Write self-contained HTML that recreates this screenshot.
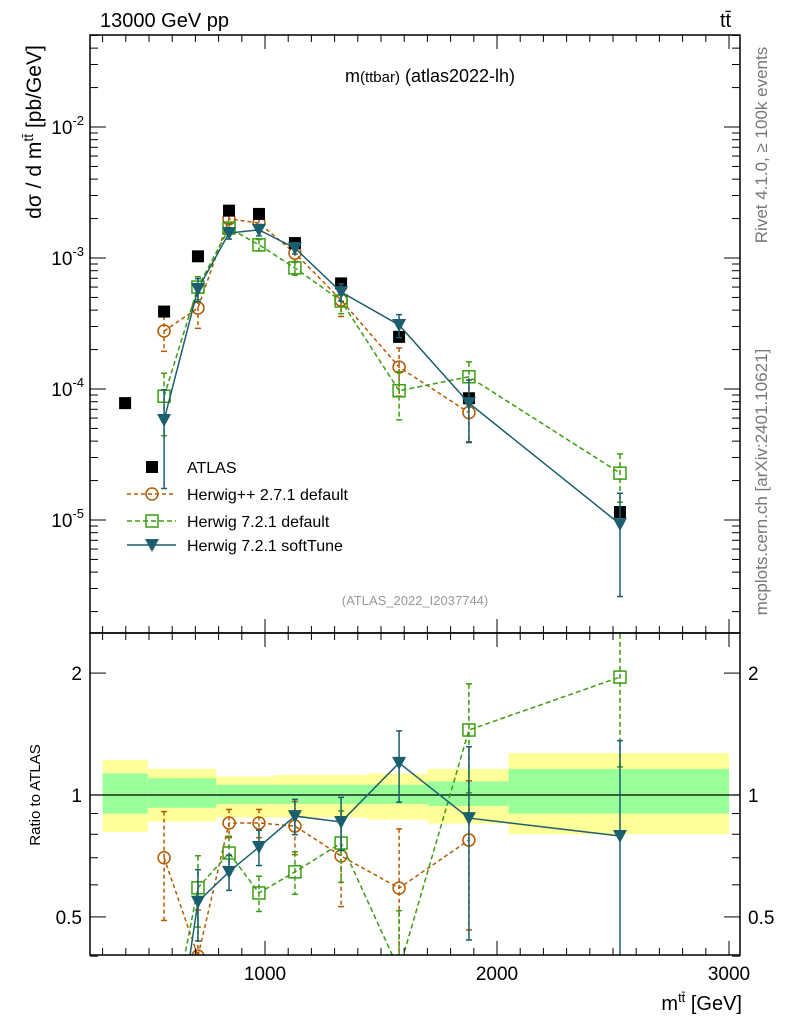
<!DOCTYPE html>
<html><head><meta charset="utf-8"><style>
html,body{margin:0;padding:0;background:#fff;width:786px;height:1024px;overflow:hidden}
svg{display:block;font-family:"Liberation Sans",sans-serif}
</style></head><body>
<svg id="c" width="786" height="1024" viewBox="0 0 786 1024">
<text x="100" y="27" font-size="20">13000 GeV pp</text>
<text x="720" y="27" font-size="20">tt̄</text>
<text x="430" y="82" font-size="18" text-anchor="middle">m<tspan font-size="15">(ttbar)</tspan> (atlas2022-lh)</text>
<text x="415" y="605" font-size="13" fill="#999" text-anchor="middle">(ATLAS_2022_I2037744)</text>
<text transform="translate(767,145) rotate(-90)" font-size="17" fill="#777" text-anchor="middle">Rivet 4.1.0, ≥ 100k events</text>
<text transform="translate(767,482) rotate(-90)" font-size="17" fill="#777" text-anchor="middle">mcplots.cern.ch [arXiv:2401.10621]</text>
<text transform="translate(41,132) rotate(-90)" font-size="21" text-anchor="middle">dσ / d m<tspan dy="-8" font-size="14">tt̄</tspan><tspan dy="8"> [pb/GeV]</tspan></text>
<text transform="translate(40,795) rotate(-90)" font-size="15" text-anchor="middle">Ratio to ATLAS</text>
<text x="742" y="1010" font-size="20" text-anchor="end">m<tspan dy="-8" font-size="13">tt̄</tspan><tspan dy="8"> [GeV]</tspan></text>
<g id="g"></g>
</svg>
<script>
const binEdges=[300,495,640,790,1040,1440,1700,2050,3000];
const bandYellowLo=[0.81,0.86,0.86,0.88,0.88,0.87,0.85,0.80];
const bandYellowHi=[1.22,1.16,1.16,1.11,1.12,1.13,1.16,1.27];
const bandGreenLo=[0.9,0.93,0.93,0.95,0.95,0.95,0.94,0.9];
const bandGreenHi=[1.13,1.10,1.10,1.06,1.06,1.06,1.08,1.16];
const dataX=[397,565,711,845,974,1129,1328,1578,1879,2530];
const dataY=[7.8e-5,3.9e-4,1.03e-3,2.3e-3,2.17e-3,1.3e-3,6.4e-4,2.5e-4,8.5e-5,1.15e-5];
const hppX=[565,711,845,974,1129,1328,1578,1879];
const hppY=[2.77e-4,4.15e-4,1.99e-3,1.85e-3,1.09e-3,4.77e-4,1.47e-4,6.6e-5];
const hppR=[0.70,0.40,0.853,0.853,0.838,0.707,0.589,0.774];
const hppE=[0.3,0.3,0.08,0.08,0.15,0.25,0.4,0.4];
const h7X=[565,711,845,974,1129,1328,1578,1879,2530];
const h7Y=[8.8e-5,6.0e-4,1.69e-3,1.26e-3,8.4e-4,4.7e-4,9.7e-5,1.24e-4,2.28e-5];
const h7R=[0.22,0.59,0.719,0.573,0.646,0.761,0.37,1.447,1.955];
const h7E=[0.5,0.2,0.1,0.1,0.12,0.2,0.4,0.3,0.4];
const stX=[565,711,845,974,1129,1328,1578,1879,2530];
const stY=[5.8e-5,5.8e-4,1.55e-3,1.64e-3,1.19e-3,5.5e-4,3.08e-4,7.8e-5,9.3e-6];
const stR=[0.15,0.545,0.646,0.744,0.887,0.858,1.2,0.877,0.792];
const stE=[0.7,0.2,0.1,0.1,0.1,0.15,0.2,0.5,0.72];
const xTicks=[1000,2000,3000];

const NS="http://www.w3.org/2000/svg",G=document.getElementById('g');
const L=90,R=740,T=35,B=633,RB=955;
const X=v=>33+0.232*v;
const Y=v=>127-131*(Math.log10(v)+2);
const YR=v=>795-405*Math.log10(v);
function el(t,a,p){const e=document.createElementNS(NS,t);for(const k in a)e.setAttribute(k,a[k]);(p||G).appendChild(e);return e;}
const defs=el('defs',{});
const c1=el('clipPath',{id:'cm'},defs);el('rect',{x:L,y:T,width:R-L,height:B-T},c1);
const c2=el('clipPath',{id:'cr'},defs);el('rect',{x:L,y:B,width:R-L,height:RB-B},c2);
const gm=el('g',{'clip-path':'url(#cm)'});


const gr=el('g',{'clip-path':'url(#cr)'});


for(let i=0;i<bandYellowLo.length;i++){
 const x1=X(binEdges[i]),x2=X(binEdges[i+1]);
 const y=el('rect',{x:x1,y:YR(bandYellowHi[i]),width:x2-x1,height:YR(bandYellowLo[i])-YR(bandYellowHi[i]),fill:'#ffff99'},gr);
 
 
 const g2=el('rect',{x:x1,y:YR(bandGreenHi[i]),width:x2-x1,height:YR(bandGreenLo[i])-YR(bandGreenHi[i]),fill:'#99ff99'},gr);
 
 
}
el('line',{x1:L,x2:R,y1:YR(1),y2:YR(1),stroke:'#000','stroke-width':1.3},gr);
function marker(p,kind,x,y,col){
 let m;
 if(kind==='circ')m=el('circle',{cx:x,cy:y,r:6,fill:'none',stroke:col,'stroke-width':1.5},p);
 else if(kind==='sq')m=el('rect',{x:x-6,y:y-6,width:12,height:12,fill:'none',stroke:col,'stroke-width':1.5},p);
 else if(kind==='tri')m=el('path',{d:`M${x-7},${y-6}L${x+7},${y-6}L${x},${y+7}Z`,fill:col},p);
 else m=el('rect',{x:x-6,y:y-6,width:12,height:12,fill:'#000'},p);
 
 
}
function series(xs,ys,rs,es,col,kind,dash,name){
 [[gm,ys,Y],[gr,rs,YR]].forEach(([p,vals,f])=>{
  const pts=xs.map((x,i)=>X(x)+','+f(vals[i])).join(' ');
  const pl=el('polyline',{points:pts,fill:'none',stroke:col,'stroke-width':1.5,'stroke-dasharray':dash},p);
  
  
  xs.forEach((x,i)=>{
   const v=vals[i],hi=f(v*(1+es[i])),lo=f(v*Math.max(0.02,1-es[i])),xx=X(x);
   el('line',{x1:xx,x2:xx,y1:hi,y2:lo,stroke:col,'stroke-width':1.5,'stroke-dasharray':dash},p);
   el('line',{x1:xx-3,x2:xx+3,y1:hi,y2:hi,stroke:col,'stroke-width':1.5},p);
   el('line',{x1:xx-3,x2:xx+3,y1:lo,y2:lo,stroke:col,'stroke-width':1.5},p);
   marker(p,kind,xx,f(v),col);
  });
 });
}
series(hppX,hppY,hppR,hppE,'#b35900','circ','4,3','herwigpp');
series(h7X,h7Y,h7R,h7E,'#3a9e10','sq','5,3','herwig7-default');
dataX.forEach((x,i)=>marker(gm,'data',X(x),Y(dataY[i]),'#000'));
series(stX,stY,stR,stE,'#1b5e6e','tri','','herwig7-softtune');
el('rect',{x:L,y:T,width:R-L,height:B-T,fill:'none',stroke:'#000','stroke-width':1.5});
el('rect',{x:L,y:B,width:R-L,height:RB-B,fill:'none',stroke:'#000','stroke-width':1.5});
for(let v=300;v<=3000;v+=100){const xx=X(v),big=v%1000===0,l=big?14:7;
 [[B,T],[RB,B]].forEach(([b,t])=>{el('line',{x1:xx,x2:xx,y1:b,y2:b-l,stroke:'#000'});el('line',{x1:xx,x2:xx,y1:t,y2:t+l,stroke:'#000'});});}
xTicks.forEach(v=>{const t=el('text',{x:X(v),y:980,'font-size':19,'text-anchor':'middle'});t.textContent=v;
 
 });
for(let d=-6;d<=-1;d++)for(let k=1;k<10;k++){const v=k*Math.pow(10,d),y=Y(v);if(y<T||y>B)continue;const l=k===1?16:8;
 el('line',{x1:L,x2:L+l,y1:y,y2:y,stroke:'#000'});el('line',{x1:R,x2:R-l,y1:y,y2:y,stroke:'#000'});
 if(k===1){const t=el('text',{x:L-6,y:y+7,'font-size':19,'text-anchor':'end'});t.innerHTML='10<tspan dy="-9" font-size="13">'+d+'</tspan>';
  
  }}
[0.4,0.5,0.6,0.7,0.8,0.9,1,2].forEach(v=>{const y=YR(v),l=(v===0.5||v===1||v===2)?16:8;
 el('line',{x1:L,x2:L+l,y1:y,y2:y,stroke:'#000'});el('line',{x1:R,x2:R-l,y1:y,y2:y,stroke:'#000'});});
[[0.5,'0.5'],[1,'1'],[2,'2']].forEach(([v,s])=>{[[L-8,'end'],[R+8,'start']].forEach(([x,a])=>{
 const t=el('text',{x:x,y:YR(v)+7,'font-size':19,'text-anchor':a});t.textContent=s;
 
 });});
const leg=[['data','#000','','ATLAS',467],['circ','#b35900','4,3','Herwig++ 2.7.1 default',494],['sq','#3a9e10','5,3','Herwig 7.2.1 default',521],['tri','#1b5e6e','','Herwig 7.2.1 softTune',545]];
leg.forEach(([k,c,d,s,y])=>{
 if(k!=='data')el('line',{x1:127,x2:176,y1:y,y2:y,stroke:c,'stroke-width':1.5,'stroke-dasharray':d});
 marker(G,k,152,y,c);
 const t=el('text',{x:187,y:y+6,'font-size':16});t.textContent=s;
 
 });
</script>
</body></html>
